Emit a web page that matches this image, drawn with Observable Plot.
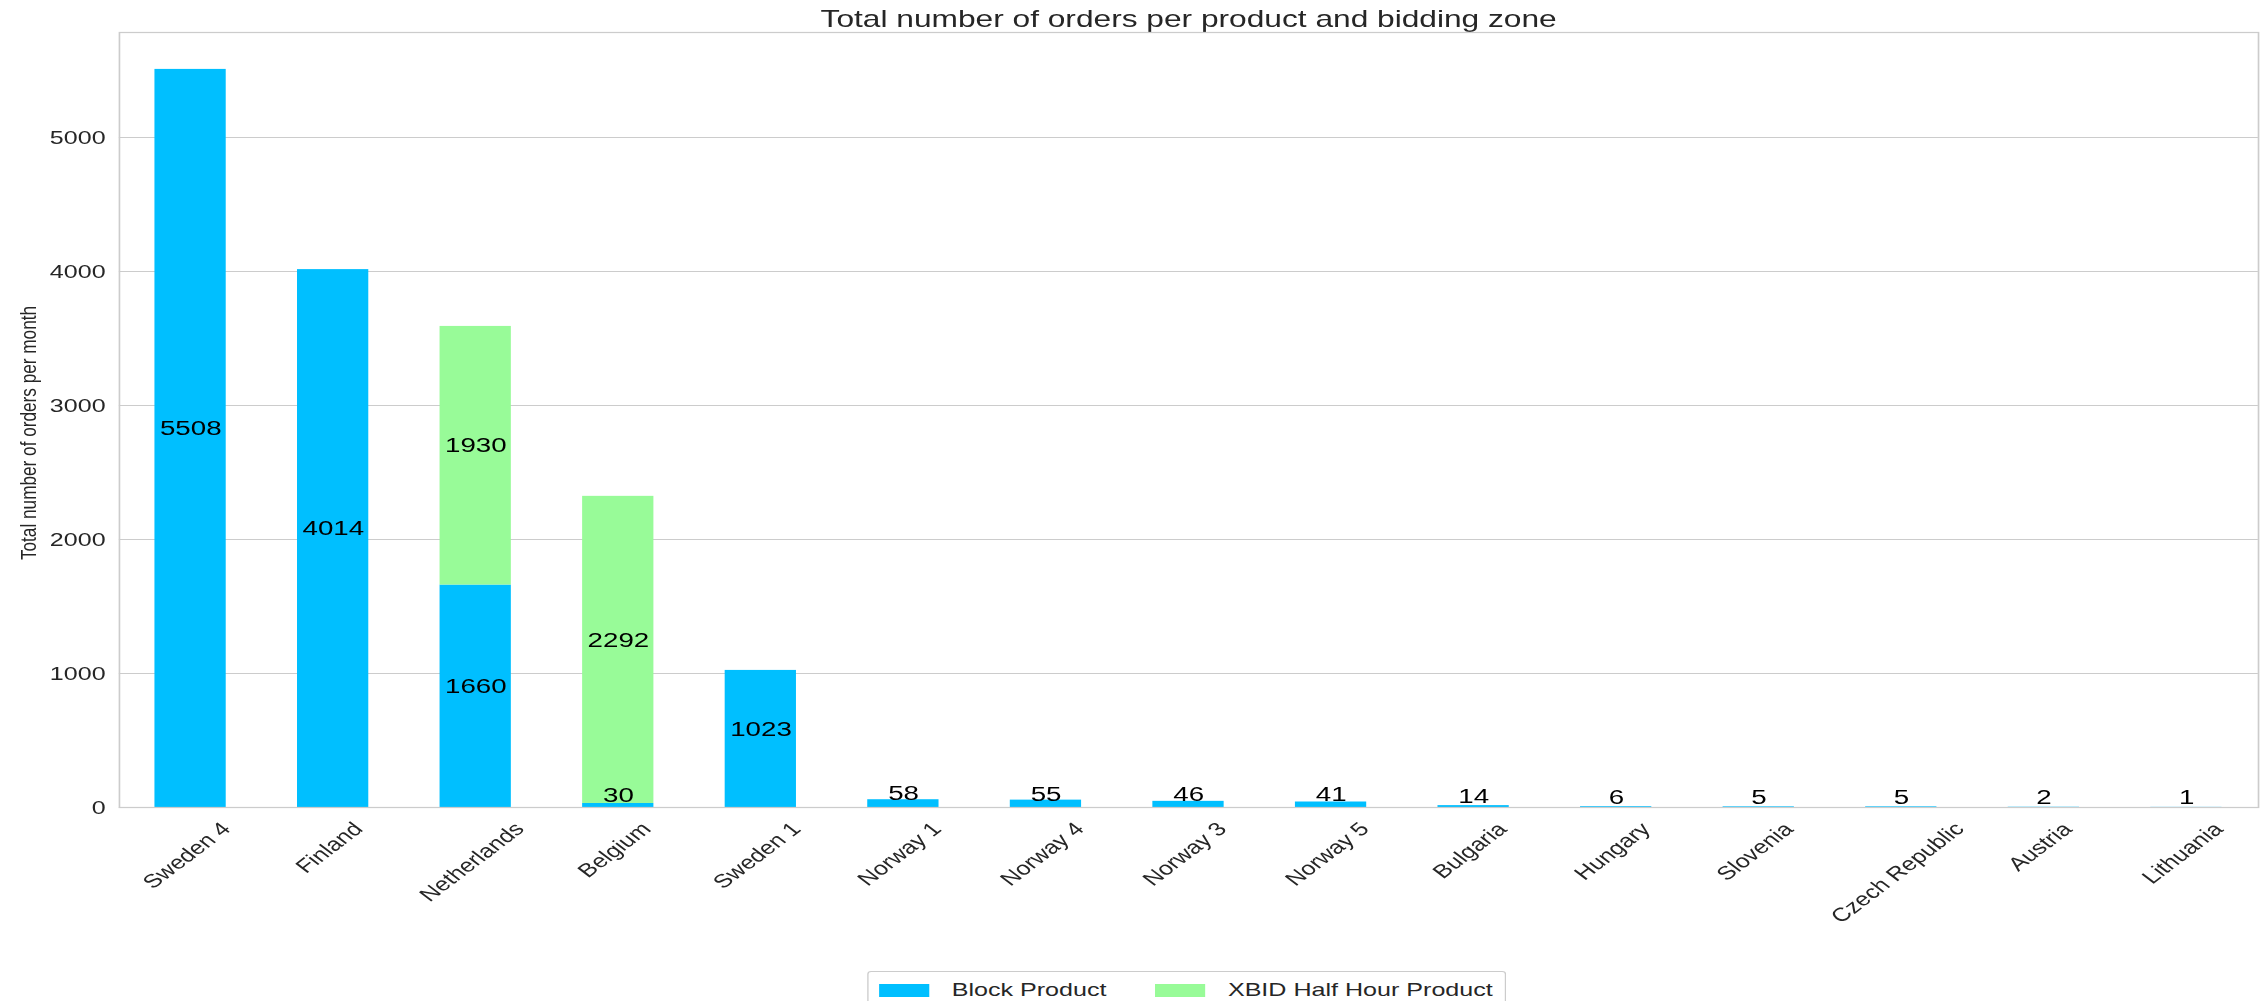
<!DOCTYPE html>
<html>
<head>
<meta charset="utf-8">
<script src="https://cdn.jsdelivr.net/npm/d3@7"></script>
<script src="https://cdn.jsdelivr.net/npm/@observablehq/plot@0.6"></script>
<style>
html, body { margin: 0; padding: 0; background: #fff; }
#fig { position: relative; width: 1715px; height: 1001px; transform: scaleX(1.32); transform-origin: 0 0; overflow: hidden;
       font-family: "Liberation Sans", Arial, sans-serif; color: #262626; }
#title { position: absolute; left: 90px; width: 1621px; top: 7px; text-align: center; font-size: 24px; line-height: 24px; white-space: nowrap; }
#chart { position: absolute; left: 0; top: 30px; }
#legend { position: absolute; top: 971px; left: 657px; display: flex; align-items: center; border: 1px solid #cccccc; border-radius: 3px;
          padding: 7px 8px 8px 8px; font-size: 19px; line-height: 22px; background: #fff; white-space: nowrap; }
#legend .sw { display: inline-block; width: 38px; height: 13px; margin-right: 17px; }
#legend .lb { margin-right: 37px; }
#legend .lb:last-child { margin-right: 1px; }
</style>
</head>
<body>
<div id="fig">
  <div id="title"></div>
  <div id="chart"></div>
  <div id="legend"></div>
</div>
<script>
// ---- data ----
const titleText = "Total number of orders per product and bidding zone";
const yLabelText = "Total number of orders per month";
const zones = ["Sweden 4", "Finland", "Netherlands", "Belgium", "Sweden 1", "Norway 1", "Norway 4", "Norway 3",
               "Norway 5", "Bulgaria", "Hungary", "Slovenia", "Czech Republic", "Austria", "Lithuania"];
const blockProduct = [5508, 4014, 1660, 30, 1023, 58, 55, 46, 41, 14, 6, 5, 5, 2, 1];
const xbidHalfHour = [0, 0, 1930, 2292, 0, 0, 0, 0, 0, 0, 0, 0, 0, 0, 0];
const products = ["Block Product", "XBID Half Hour Product"];
const productColors = ["#00BFFF", "#98FB98"];
const yTicks = [0, 1000, 2000, 3000, 4000, 5000];

// ---- table built from the arrays ----
const rows = zones.flatMap((z, i) => [
  {zone: z, product: products[0], value: blockProduct[i]},
  {zone: z, product: products[1], value: xbidHalfHour[i]}
]);
const totals = zones.map((z, i) => blockProduct[i] + xbidHalfHour[i]);
const yMax = d3.max(totals) * 1.05;

document.getElementById("title").textContent = titleText;

const tickFont = 19;
const chart = Plot.plot({
  width: 1715,
  height: 940,
  marginLeft: 90,
  marginRight: 4.5,
  marginTop: 2,
  marginBottom: 163,
  style: {fontFamily: "'Liberation Sans', Arial, sans-serif", background: "transparent", overflow: "visible"},
  x: {domain: zones, paddingInner: 0.5, paddingOuter: 0.25, label: null},
  y: {domain: [0, yMax], label: null},
  color: {domain: products, range: productColors},
  marks: [
    Plot.gridY(yTicks, {stroke: "#cccccc", strokeOpacity: 1, strokeWidth: 1}),
    Plot.barY(rows, {x: "zone", y: "value", fill: "product"}),
    Plot.frame({stroke: "#cccccc", strokeWidth: 1.25}),
    Plot.text(rows.filter(d => d.value > 0), Plot.stackY({
      x: "zone", y: "value", z: "product", text: d => String(d.value),
      fontSize: 21, fill: "#000000", dy: -10
    })),
    Plot.axisY(yTicks, {tickSize: 0, tickPadding: 10.5, fontSize: tickFont, fill: "#262626", label: null, tickFormat: d => String(d)}),
    Plot.axisX({tickSize: 0, tickPadding: 13, tickRotate: -45, textAnchor: "middle", lineAnchor: "middle",
                fontSize: tickFont, fill: "#262626", label: null, dx: -3}),
    Plot.text([yLabelText], {frameAnchor: "left", rotate: -90, textAnchor: "middle", dx: -69, dy: 13, fontSize: 17.2, fill: "#262626"})
  ]
});
document.getElementById("chart").append(chart);

// matplotlib-style centring of rotated tick labels: bounding box top sits at the axis pad
chart.querySelectorAll('g[aria-label="x-axis tick label"] text').forEach(t => {
  const w = t.getBBox().width;
  const shift = (w / 2 + 0.39 * tickFont) * Math.SQRT1_2;
  t.setAttribute("transform", `translate(0,${shift}) ` + (t.getAttribute("transform") || ""));
});

// legend
const legend = document.getElementById("legend");
products.forEach((p, i) => {
  const sw = document.createElement("span");
  sw.className = "sw";
  sw.style.background = productColors[i];
  const lb = document.createElement("span");
  lb.className = "lb";
  lb.textContent = p;
  legend.append(sw, lb);
});
</script>
</body>
</html>
